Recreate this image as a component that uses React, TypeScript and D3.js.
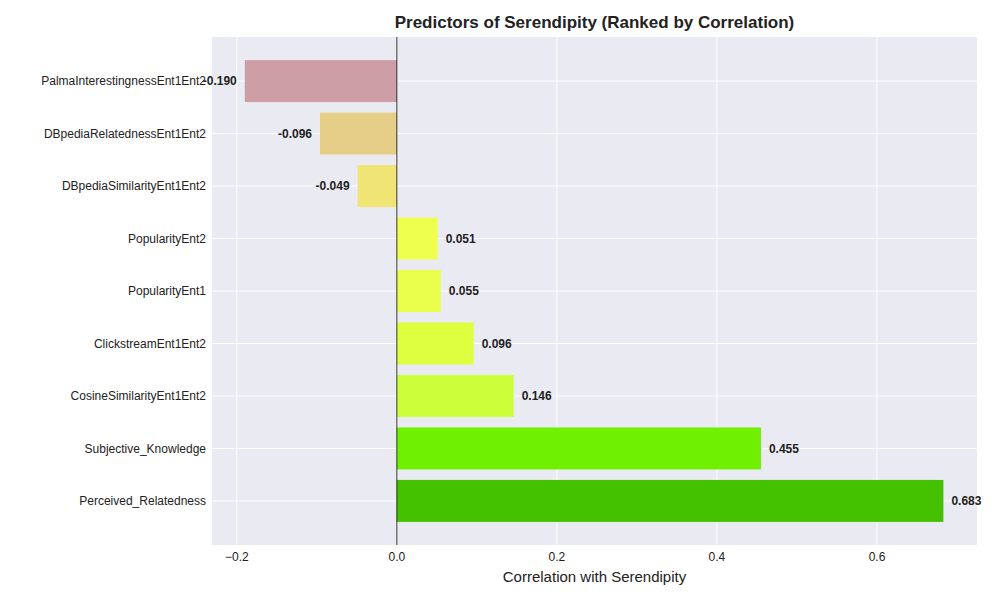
import * as d3 from 'd3'

const names = ['PalmaInterestingnessEnt1Ent2', 'DBpediaRelatednessEnt1Ent2', 'DBpediaSimilarityEnt1Ent2', 'PopularityEnt2', 'PopularityEnt1', 'ClickstreamEnt1Ent2', 'CosineSimilarityEnt1Ent2', 'Subjective_Knowledge', 'Perceived_Relatedness']
const values = [-0.19, -0.096, -0.049, 0.051, 0.055, 0.096, 0.146, 0.455, 0.683]
const colors = ['#cd9ea6', '#e5ce88', '#f0e474', '#eeff4e', '#eaff4c', '#ddff40', '#ccff3a', '#6ff000', '#44c200']
const xTicks = [-0.2, 0, 0.2, 0.4, 0.6]

const W = 1000, H = 600
const L = 212, R = 977, T = 37, B = 545

export default function App() {
  const x = d3.scaleLinear().domain([-0.231, 0.725]).range([L, R])
  const step = (B - T) / (names.length - 1 + 1.68)
  const y = (i: number) => T + step * 0.84 + i * step
  const bh = step * 0.8
  const font = 'Liberation Sans, Arial, sans-serif'
  return (
    <svg width={W} height={H} style={{ position: 'absolute', left: 0, top: 0, fontFamily: font }}>
      <rect width={W} height={H} fill="#fff" />
      <rect x={L} y={T} width={R - L} height={B - T} fill="#eaeaf2" />
      {xTicks.map(t => (
        <line key={t} x1={x(t)} x2={x(t)} y1={T} y2={B} stroke="#fff" strokeWidth={1} />
      ))}
      {names.map((_, i) => (
        <line key={i} x1={L} x2={R} y1={y(i)} y2={y(i)} stroke="#fff" strokeWidth={1} />
      ))}
      {values.map((v, i) => (
        <rect key={i} x={Math.min(x(0), x(v))} y={y(i) - bh / 2} width={Math.abs(x(v) - x(0))} height={bh} fill={colors[i]} />
      ))}
      <line x1={x(0)} x2={x(0)} y1={T} y2={B} stroke="#000" strokeWidth={0.8} />
      {values.map((v, i) => (
        <text key={i} x={v >= 0 ? x(v + 0.01) : x(v - 0.01)} y={y(i)} dy="0.35em" textAnchor={v >= 0 ? 'start' : 'end'}
          fontSize={12} fontWeight="bold" fill="#222">{v.toFixed(3)}</text>
      ))}
      {names.map((n, i) => (
        <text key={n} x={L - 6} y={y(i)} dy="0.35em" textAnchor="end" fontSize={12} fill="#222">{n}</text>
      ))}
      {xTicks.map(t => (
        <text key={t} x={x(t)} y={B + 16} textAnchor="middle" fontSize={12} fill="#222">{t === 0 ? '0.0' : t < 0 ? '\u2212' + Math.abs(t).toFixed(1) : t.toFixed(1)}</text>
      ))}
      <text x={(L + R) / 2} y={582} textAnchor="middle" fontSize={15} fill="#222">Correlation with Serendipity</text>
      <text x={(L + R) / 2} y={28} textAnchor="middle" fontSize={17} fontWeight="bold" fill="#222">Predictors of Serendipity (Ranked by Correlation)</text>
    </svg>
  )
}
